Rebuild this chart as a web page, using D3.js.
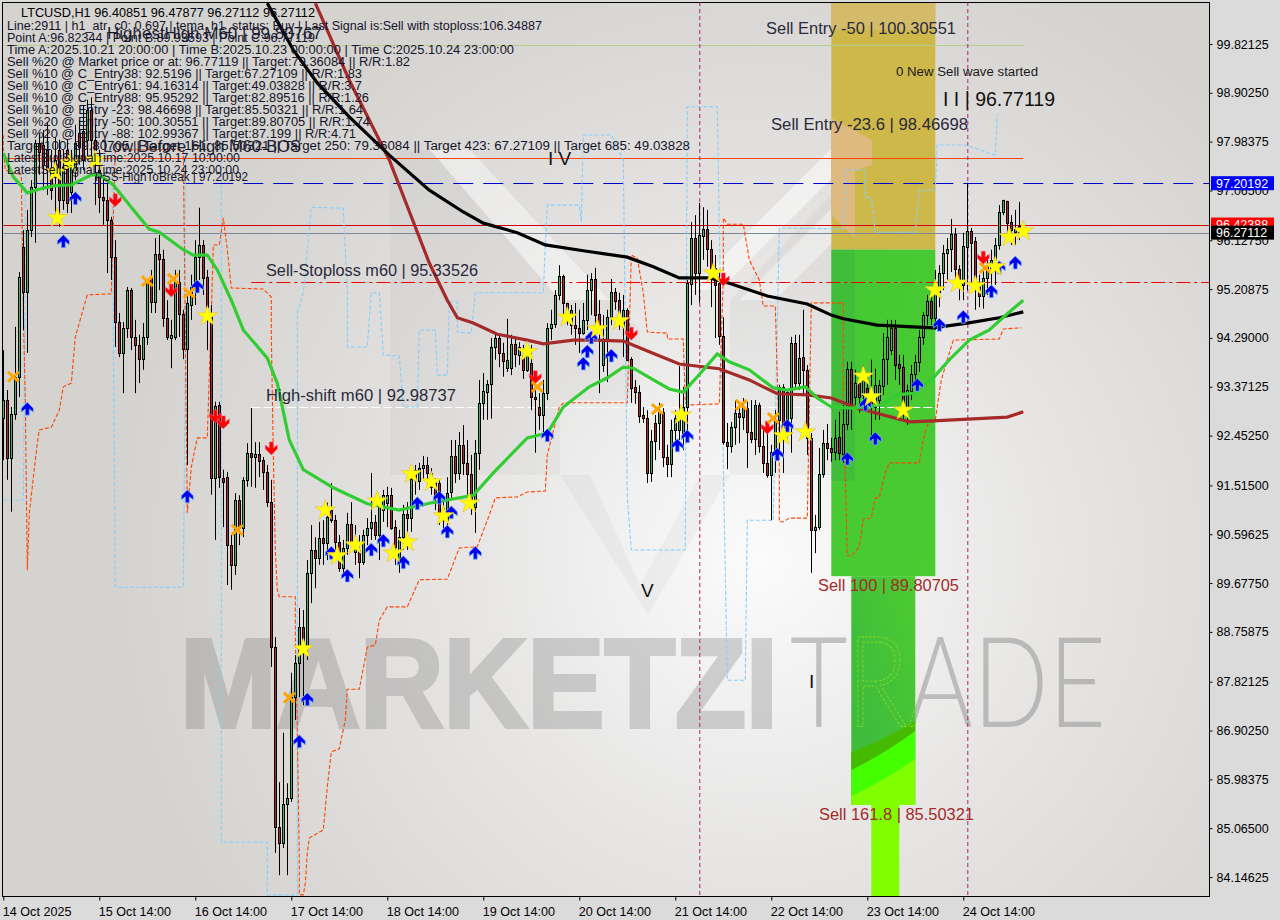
<!DOCTYPE html>
<html><head><meta charset="utf-8">
<script src="https://cdn.jsdelivr.net/npm/d3@7/dist/d3.min.js"></script>
<style>
html,body{margin:0;padding:0;background:#dcdbdb;overflow:hidden}
svg{display:block}
text{font-family:"Liberation Sans",Arial,sans-serif}
</style></head><body><svg id="c" width="1280" height="920"></svg>
<script>
const highs=[94.06,93.31,92.99,94.50,95.53,96.32,96.70,97.26,98.02,98.15,98.20,98.34,97.83,98.07,98.02,97.83,98.02,97.83,98.30,98.39,98.67,98.77,98.82,98.30,97.83,97.36,97.26,96.57,96.13,94.76,94.59,95.25,95.23,94.63,94.35,94.57,95.38,95.57,96.17,96.23,95.95,95.00,94.63,95.57,95.57,94.82,95.10,95.48,96.13,96.74,96.13,95.57,94.91,93.09,93.09,91.81,91.77,90.58,91.37,91.33,91.67,92.31,92.97,92.33,92.33,92.05,91.90,91.62,88.66,85.93,86.86,85.91,87.99,88.32,89.21,89.17,90.11,90.77,90.54,90.83,90.86,91.19,91.56,90.96,90.58,90.49,91.00,91.20,90.77,90.58,90.68,90.90,91.75,90.96,91.30,91.43,91.49,91.47,90.86,90.68,91.15,91.20,91.75,91.90,91.94,92.07,92.05,91.84,91.65,91.62,91.24,91.67,92.37,92.37,92.52,92.65,92.37,92.09,92.37,93.50,93.63,93.50,94.29,94.35,94.35,94.20,94.65,94.35,94.29,94.21,94.16,94.21,94.16,93.37,93.25,93.50,94.57,94.82,95.19,95.66,95.48,94.95,94.91,94.95,94.82,94.95,95.48,95.51,95.61,95.00,94.72,94.82,95.40,95.23,95.14,95.10,94.85,93.93,93.50,93.40,92.99,92.93,92.56,92.84,93.07,92.97,92.28,92.75,92.93,93.76,93.37,95.38,96.47,96.60,96.83,96.75,96.70,96.13,95.85,95.57,94.68,92.69,92.71,93.12,93.07,93.16,93.09,93.12,93.12,93.07,92.56,92.56,92.28,92.93,93.41,93.42,93.31,94.31,94.35,94.35,94.82,93.78,92.50,90.96,92.22,92.56,92.67,92.41,92.75,92.90,93.03,93.84,93.84,93.69,93.54,93.78,93.59,93.88,93.71,93.50,94.38,94.63,94.63,94.63,93.97,93.97,93.41,93.78,93.97,94.44,94.78,95.10,95.10,95.57,95.66,96.04,96.17,96.53,96.36,95.66,96.27,97.21,96.36,96.19,95.48,95.57,95.85,95.95,96.17,96.79,96.89,96.87,96.60,96.70,96.85,96.48];
const lows=[91.99,91.62,91.02,92.75,93.18,94.44,94.01,96.19,96.08,97.36,97.07,96.98,96.89,96.57,96.38,96.70,96.64,96.64,97.26,97.55,97.45,97.64,97.55,96.79,96.64,96.42,95.51,95.38,94.12,93.93,93.25,94.29,94.06,93.25,93.44,93.69,94.16,94.76,94.76,95.19,94.50,94.25,93.72,94.25,94.31,93.89,91.90,94.63,94.91,95.38,95.10,94.06,91.34,90.49,91.47,90.73,89.64,89.55,89.83,90.39,90.54,91.49,91.49,91.47,91.67,91.43,91.11,88.10,84.60,84.18,84.69,84.18,85.56,87.10,87.53,87.38,88.23,89.30,89.58,90.02,90.02,90.11,90.81,90.21,89.89,89.83,90.21,90.39,90.02,89.77,90.02,90.39,90.49,90.49,90.11,90.83,90.73,90.68,90.02,89.87,90.30,90.30,90.64,91.34,91.43,91.62,91.52,91.34,91.05,90.77,90.64,90.77,91.24,91.56,91.62,91.71,91.34,90.96,90.62,91.81,92.75,92.75,92.77,93.88,93.74,93.56,93.65,93.59,93.74,93.78,93.52,93.65,92.93,92.13,92.56,92.52,93.12,94.25,94.48,95.00,94.72,94.53,94.35,94.16,94.01,94.35,94.44,94.72,94.31,93.25,93.65,93.46,94.53,94.82,94.44,93.93,93.88,93.07,93.05,92.69,92.69,91.56,91.58,91.99,92.18,91.86,91.67,91.67,92.28,92.37,92.18,92.37,94.91,95.10,94.95,95.76,95.63,94.87,94.29,94.16,92.28,91.82,92.13,92.28,92.31,92.56,91.84,92.31,92.09,92.13,91.75,91.66,90.86,91.75,92.18,91.75,92.37,92.13,93.31,93.31,93.22,92.09,89.87,90.24,90.68,91.66,91.99,91.96,91.99,91.99,91.94,92.56,92.56,93.03,92.88,93.03,92.93,92.46,92.75,92.75,93.22,93.41,93.97,93.50,93.41,92.75,92.65,93.12,93.50,93.65,94.16,94.53,94.53,94.44,94.87,95.19,95.38,95.53,95.29,95.00,95.00,95.19,95.29,94.82,94.87,94.84,95.10,95.29,95.29,95.95,96.60,96.23,96.04,96.04,96.13,96.27];
const opens=[92.78,93.12,92.03,92.86,93.56,96.00,95.16,96.32,97.13,97.96,97.92,97.83,97.45,97.32,97.83,96.89,97.83,97.04,97.45,98.15,98.18,98.02,98.58,98.02,97.45,96.94,96.89,96.51,95.81,94.59,94.01,94.48,95.19,94.31,94.16,93.89,94.31,95.44,94.97,95.87,95.78,94.67,94.29,94.31,95.34,94.74,94.08,94.91,95.25,95.81,96.04,95.44,94.68,91.66,93.03,91.66,91.67,90.39,90.02,91.24,90.71,91.62,92.13,92.05,92.11,91.99,91.77,91.20,88.47,85.09,84.79,85.52,85.63,87.53,88.17,88.85,88.46,89.87,90.30,90.15,90.53,90.43,91.05,90.86,90.45,89.96,90.34,90.79,90.26,90.30,90.07,90.58,90.71,90.83,90.58,91.05,91.18,91.34,90.73,90.11,90.54,90.98,90.90,91.81,91.60,91.84,91.90,91.75,91.58,91.56,91.09,90.86,91.39,92.07,91.75,92.28,91.94,91.73,91.11,92.13,93.07,93.27,93.42,94.12,94.29,94.01,93.72,93.72,94.18,93.97,93.97,93.69,93.82,93.18,92.99,92.84,93.25,94.48,94.55,95.10,95.46,94.95,94.53,94.53,94.48,94.38,94.63,95.19,95.40,94.74,93.78,94.25,94.68,95.16,95.00,94.50,94.82,93.89,93.37,93.27,92.84,92.78,91.75,92.69,92.69,92.90,92.05,91.92,92.56,92.56,92.50,92.99,95.30,96.17,95.51,96.21,96.34,95.96,95.61,95.32,94.33,92.33,92.26,92.62,92.88,92.80,92.97,92.52,92.39,93.03,92.26,91.94,91.71,92.14,92.75,93.37,92.65,92.78,94.20,93.44,93.93,93.69,92.41,90.68,90.73,91.73,92.31,92.22,92.14,92.43,92.11,92.67,93.71,93.18,93.44,93.22,93.35,93.22,92.99,93.12,93.39,93.89,94.06,94.48,93.80,93.74,92.93,93.29,93.61,93.84,94.31,94.72,94.99,94.67,95.16,95.51,95.89,95.96,96.25,95.59,95.29,96.00,96.30,96.11,95.29,95.08,95.42,95.61,95.66,96.04,96.66,96.87,96.47,96.28,96.40,96.41];
const closes=[93.12,92.03,92.86,93.56,95.44,95.16,96.32,97.13,97.96,97.79,97.55,97.45,97.07,97.64,96.89,97.51,96.83,97.51,97.96,97.88,97.64,98.58,98.02,97.83,96.94,96.89,96.51,95.81,94.59,94.01,94.48,95.19,94.31,94.16,93.89,94.31,95.34,94.97,95.87,95.78,94.67,94.31,94.35,95.34,94.74,94.08,94.95,95.25,95.81,96.04,95.42,94.87,91.66,93.01,91.67,91.58,90.39,90.02,91.24,90.71,91.62,92.13,92.05,92.11,91.98,91.77,91.20,88.47,85.09,84.79,85.52,85.63,87.53,88.17,88.85,88.46,89.87,90.30,90.15,90.53,90.43,90.92,90.86,90.45,89.96,90.34,90.79,90.43,90.49,90.07,90.58,90.71,90.83,90.58,91.15,91.34,91.34,90.71,90.36,90.54,90.98,90.90,91.64,91.62,91.84,91.90,91.75,91.49,91.34,91.00,90.90,91.37,92.07,91.75,92.28,91.94,91.73,91.11,92.13,93.07,93.29,93.42,94.12,94.29,94.01,93.86,93.88,94.18,93.99,94.12,93.69,94.06,93.18,93.14,92.84,93.25,94.48,94.55,95.10,95.46,94.95,94.76,94.82,94.48,94.38,94.63,95.19,95.40,94.72,94.53,94.25,94.68,95.16,94.99,94.76,94.82,93.88,93.35,93.27,92.82,92.78,91.75,92.35,92.35,92.90,92.05,91.92,92.56,92.78,92.80,92.99,95.32,96.17,95.51,96.23,96.34,95.96,95.61,95.29,94.33,92.33,92.26,92.62,92.88,92.80,92.99,92.52,92.39,93.03,92.26,91.94,91.71,92.14,92.75,93.37,92.62,93.27,94.20,93.44,93.91,93.69,92.41,90.68,90.73,91.73,92.31,92.22,92.14,92.41,92.13,92.67,93.71,92.99,93.44,93.18,93.50,93.07,93.03,93.41,93.41,93.89,94.31,94.48,93.78,93.72,92.99,93.31,93.61,93.84,94.31,94.72,94.99,94.67,95.19,95.51,95.89,95.96,96.25,95.59,95.32,96.02,96.30,96.08,95.25,95.08,95.42,95.66,95.76,96.04,96.66,96.89,96.45,96.32,96.34,96.28,96.27];

const greenLine=[[0,97.77],[2.5,97.32],[6,97.02],[10,97.11],[12.5,97.15],[17,97.17],[22,97.36],[24,97.36],[27.5,97.17],[32.5,96.70],[36.5,96.34],[39,96.28],[45,95.95],[47.5,95.85],[51,95.85],[53.5,95.57],[57,95.00],[60,94.44],[66,93.91],[68.5,93.44],[71.5,92.37],[75,91.81],[82.5,91.47],[91,91.17],[99,91.05],[106.5,91.18],[117.5,91.33],[122.5,91.75],[131,92.41],[136,92.50],[140,92.99],[146.5,93.37],[151,93.54],[155,93.74],[157.5,93.72],[163.5,93.46],[166.5,93.33],[170,93.27],[173.5,93.56],[178.5,93.99],[181.5,93.84],[186.5,93.69],[192.5,93.35],[196,93.31],[200.5,93.37],[203.5,93.16],[207,92.99],[212,92.97],[219.5,93.03],[223.5,93.22],[227.5,93.25],[232.5,93.54],[236.5,93.88],[241.5,94.25],[246.5,94.44],[250,94.68],[255,95.00]];
const blackLine=[[66,100.59],[72.5,99.71],[78.5,99.09],[86.5,98.45],[96.5,97.73],[106.5,97.07],[115,96.66],[120,96.45],[128.5,96.27],[135.5,96.04],[145,95.93],[156,95.81],[162.5,95.63],[169,95.42],[176.5,95.42],[181.5,95.32],[191,95.08],[201,94.93],[207,94.72],[210,94.65],[218.5,94.53],[232.5,94.48],[241,94.57],[249,94.67],[255,94.78]];
const brownLine=[[78,100.59],[86.5,99.14],[96.5,97.64],[106.5,95.70],[111,95.00],[113.5,94.67],[117.5,94.57],[123.5,94.36],[131,94.25],[135,94.18],[142.5,94.25],[148.5,94.25],[155,94.23],[161.5,94.03],[169,93.80],[179,93.71],[186.5,93.50],[193.5,93.24],[201,93.22],[207,93.16],[213.5,92.97],[226.5,92.71],[232.5,92.73],[251,92.80],[255,92.90]];
const orangeStops=[[0,98.11],[0,97.83],[0.5,97.45],[4.5,97.36],[5,94.76],[5.5,93.12],[6,89.92],[6.5,91.00],[8.5,92.31],[9,92.56],[12,92.61],[14,92.93],[15,93.37],[17,93.44],[18,94.31],[21,95.10],[27,95.12],[28,97.83],[45,97.83],[46,91.00],[47,91.86],[48.5,92.41],[51,92.41],[52,94.76],[52.5,96.04],[54,96.04],[55,96.55],[56,95.95],[57,95.23],[65,95.21],[67,95.06],[67,94.38],[67.5,92.13],[68,90.30],[68.5,89.55],[69,89.42],[73,89.42],[73,88.66],[73.5,86.97],[74,84.47],[74,83.81],[75,83.81],[75.5,84.03],[76,84.60],[76.5,84.88],[80,85.03],[81,85.84],[82,86.50],[84,86.56],[85.5,87.10],[86,87.68],[89,87.68],[91,88.47],[93,88.51],[94,88.98],[96,89.23],[101,89.23],[104,89.74],[111,89.75],[114,90.34],[118.5,90.36],[121.5,90.96],[123,91.28],[128.5,91.30],[131,91.39],[135.5,91.41],[136,92.09],[139,92.99],[140,93.07],[156,93.07],[157,95.85],[158.5,95.79],[160,95.14],[161,94.40],[166,94.38],[166,94.27],[170,94.27],[170.5,93.07],[172,93.03],[179,93.05],[180,95.44],[180,96.55],[181,96.43],[185,96.43],[186.5,95.76],[189,95.38],[190,94.89],[193,94.89],[194,92.24],[194,90.83],[195,90.83],[196.5,90.90],[201,90.90],[202,94.95],[210,94.95],[210,93.12],[211,90.19],[212,90.19],[214,90.36],[215,90.88],[217,90.90],[218,91.28],[219,91.28],[220.5,91.75],[221.5,91.94],[229,91.94],[230,92.37],[231,92.65],[233,92.75],[234.5,93.50],[236,93.88],[237.5,94.25],[249,94.27],[250,94.46],[254.5,94.48]];
const blueStops=[[0,91.24],[5,91.24],[5.5,95.38],[5.5,98.77],[6,99.52],[27,99.52],[28,89.60],[42,89.60],[45,89.60],[45.5,93.88],[45.5,99.52],[48.5,100.46],[54,100.46],[54.5,97.39],[54.5,84.80],[66,84.80],[66,83.81],[73.5,83.81],[73.5,94.76],[75,95.14],[77,96.75],[85,96.73],[86,95.19],[86,94.12],[91,94.12],[92,95.14],[94,95.14],[95,93.97],[99,93.95],[100,92.99],[103.5,92.99],[104,94.44],[108,94.44],[108.5,93.59],[111,93.59],[111.5,94.97],[113.5,94.97],[113.5,94.40],[117,94.38],[118,95.14],[135,95.14],[135.5,96.04],[136,96.79],[144,96.79],[144.5,96.47],[145,98.11],[152,98.11],[155,97.64],[156,91.30],[157,90.30],[170.5,90.30],[171,98.64],[178.5,98.64],[180,91.94],[181,87.85],[185.5,87.85],[186,90.86],[192.5,90.86],[194,96.36],[210,96.34],[210.5,97.45],[215.5,97.45],[215.5,96.94],[217,96.92],[218,96.28],[228,96.28],[229,97.07],[233,97.07],[233.5,97.92],[240.5,97.92],[248,97.73],[248.5,98.49]];

const stars=[[13.5,96.55],[13,97.41],[16.5,97.58],[23,97.64],[51,94.70],[80.5,91.05],[83.5,90.19],[88,90.39],[93.5,91.22],[97.5,90.24],[101,90.45],[102,91.73],[107,91.58],[110,90.94],[116.5,91.18],[75,88.44],[131,94.03],[141,94.68],[148.5,94.46],[154,94.61],[169.5,92.84],[177.5,95.51],[195,92.45],[200.5,92.52],[215,93.57],[217,93.18],[225,92.93],[233,95.19],[238.5,95.32],[243,95.27],[248,95.63],[251.5,96.19],[255,96.30]];
const crosses=[[2.5,93.56],[36,95.36],[42.5,95.40],[46.5,95.14],[58.5,90.68],[71.5,87.52],[133.5,93.37],[163.5,92.95],[184.5,93.03],[192.5,92.78],[245.5,95.61]];
const upArrows=[[18,96.91],[15,96.10],[48.5,95.25],[6,92.95],[46,91.30],[74,86.69],[76,87.48],[82,90.24],[86,89.81],[92,90.30],[95,90.47],[100,90.06],[103.5,91.17],[109,91.28],[111,90.64],[112,91.00],[118,90.24],[136,92.45],[145,93.80],[146,94.03],[147,94.29],[152,93.95],[168.5,92.26],[171,92.43],[193.5,92.09],[196,92.63],[211,92.01],[215.5,93.03],[218,92.39],[228.5,93.40],[234,94.53],[240,94.68],[247,95.16],[253,95.70],[249,95.61]];
const downArrows=[[28,96.89],[42,95.19],[53,92.82],[55,92.71],[67,92.22],[133,93.56],[157,94.38],[180,95.40],[191,92.61],[245,95.81]];

const priceTicks=[99.82125,98.9025,97.98375,97.065,96.1275,95.20875,94.29,93.37125,92.4525,91.515,90.59625,89.6775,88.75875,87.82125,86.9025,85.98375,85.065,84.14625];
const timeBars=[0,24,48,72,96,120,144,168,192,216,240];
const timeLabels=["14 Oct 2025","15 Oct 14:00","16 Oct 14:00","17 Oct 14:00","18 Oct 14:00","19 Oct 14:00","20 Oct 14:00","21 Oct 14:00","22 Oct 14:00","23 Oct 14:00","24 Oct 14:00"];
const infoLines=["Line:2911 | h1_atr_c0: 0.697 | tema_h1_status: Buy | Last Signal is:Sell with stoploss:106.34887","Point A:96.82344 | Point B:89.93593 | Point C:96.77119","Time A:2025.10.21 20:00:00 | Time B:2025.10.23 00:00:00 | Time C:2025.10.24 23:00:00","Sell %20 @ Market price or at: 96.77119 || Target:79.36084 || R/R:1.82","Sell %10 @ C_Entry38: 92.5196 || Target:67.27109 || R/R:1.83","Sell %10 @ C_Entry61: 94.16314 || Target:49.03828 || R/R:3.7","Sell %10 @ C_Entry88: 95.95292 || Target:82.89516 || R/R:1.26","Sell %10 @ Entry -23: 98.46698 || Target:85.50321 || R/R:1.64","Sell %20 @ Entry -50: 100.30551 || Target:89.80705 || R/R:1.74","Sell %20 @ Entry -88: 102.99367 || Target:87.199 || R/R:4.71","Target100: 89.80705 || Target 161: 85.50321 || Target 250: 79.36084 || Target 423: 67.27109 || Target 685: 49.03828","LatestBuySignalTime:2025.10.17 10:00:00","LatestSellSignalTime:2025.10.24 23:00:00"];
const hLevels=[{p:97.20192,c:"#0000c8",d:"20,10"},{p:97.68,c:"#ff4500",d:"",end:255},{p:99.81,c:"#b4cf8c",d:"",end:255},{p:96.42388,c:"#d40000",d:""},{p:96.27112,c:"#7a8796",d:""},{p:95.33526,c:"#f00000",d:"14,4,3,4",x0:62},{p:92.98737,c:"#ffffff",d:"9,3",x0:62,end:234}];
const vBars=[174,241];
const zones=[{a:207,b:233,hi:102.99367,lo:95.95292,c:"#cfb84a"},{a:207,b:233,hi:95.95292,lo:89.80705,c:"url(#gz)"},{a:212,b:228,hi:89.80705,lo:85.50321,c:"url(#gz2)"},{a:217,b:224,hi:85.50321,lo:79.36084,c:"#7fff00"}];

const W=1280,H=920,L=2,T=2,R=1209,B=896;
const x=d3.scaleLinear().domain([0,255]).range([3.3,1023.3]);
const y=d3.scaleLinear().domain([99.82125,84.14625]).range([44,877]);
const svg=d3.select("#c");
const defs=svg.append("defs");
const bg=defs.append("radialGradient").attr("id","bg").attr("gradientUnits","userSpaceOnUse").attr("cx",760).attr("cy",560).attr("r",640);
bg.append("stop").attr("offset",0).attr("stop-color","#fbfbfb");
bg.append("stop").attr("offset",.45).attr("stop-color","#e7e6e5");
bg.append("stop").attr("offset",1).attr("stop-color","#d5d3d0");
const gz=defs.append("linearGradient").attr("id","gz").attr("x1",0).attr("y1",0).attr("x2",1).attr("y2",1);
gz.append("stop").attr("offset",0).attr("stop-color","#45c834");
gz.append("stop").attr("offset",1).attr("stop-color","#4acb32");
const gz2=defs.append("linearGradient").attr("id","gz2").attr("x1",1).attr("y1",0).attr("x2",0).attr("y2",1);
gz2.append("stop").attr("offset",0).attr("stop-color","#4ccc30");
gz2.append("stop").attr("offset",.7).attr("stop-color","#40bc3c");
defs.append("clipPath").attr("id","clip").append("rect").attr("x",L+1).attr("y",T+1).attr("width",R-L-1).attr("height",B-T-1);
defs.append("clipPath").attr("id","clipR").append("rect").attr("x",x(212)).attr("y",600).attr("width",x(228)-x(212)).attr("height",200);

svg.append("rect").attr("width",W).attr("height",H).attr("fill","#dcdbdb");
svg.append("rect").attr("x",L).attr("y",T).attr("width",R-L).attr("height",B-T).attr("fill","url(#bg)");
const g=svg.append("g").attr("clip-path","url(#clip)");

// logo watermark
const deco=g.append("g");
[["390,150 470,150 640,330 640,400 560,400 560,475 390,475","#000",.028],
 ["730,300 855,170 855,475 730,475","#000",.03],
 ["560,475 590,475 640,585 700,475 730,475 648,615","#000",.03],
 ["430,150 470,150 610,300 560,300","#fff",.5],
 ["690,290 830,150 860,150 720,290","#fff",.5],
 ["740,300 860,180 860,215 775,300","#fff",.4]
].forEach(p=>deco.append("polygon").attr("points",p[0]).attr("fill",p[1]).attr("opacity",p[2]));
const wmA=()=>deco.append("text").attr("y",727).attr("font-size",126);
wmA().attr("x",180).attr("font-weight",700).attr("fill","#7a7a7a").attr("stroke","#7a7a7a").attr("stroke-width",4).attr("opacity",.3).attr("textLength",598).attr("lengthAdjust","spacingAndGlyphs").text("MARKETZI");
wmA().attr("x",790).attr("font-weight",300).attr("fill","#777").attr("opacity",.4).attr("style","font-family:Lato,Inter,sans-serif").attr("textLength",316).attr("lengthAdjust","spacingAndGlyphs").text("TRADE");

// fibonacci zones
g.selectAll("rect.z").data(zones).join("rect").attr("class","z")
 .attr("x",d=>x(d.a)).attr("width",d=>x(d.b)-x(d.a)).attr("y",d=>y(d.hi)).attr("height",d=>y(d.lo)-y(d.hi)).attr("fill",d=>d.c);
const zx0=x(207),zx1=x(233),zm=x(212),zn=x(228);
g.append("polygon").attr("points",`${zx0},118 872,140 872,165 855,170 855,238 ${zx0},215`).attr("fill","#deb980");
g.append("rect").attr("x",zx0).attr("y",0).attr("width",zx1-zx0).attr("height",30).attr("fill","#d3bb6a");
g.append("rect").attr("x",zx0).attr("y",y(95.95)).attr("width",855-zx0).attr("height",y(91.6)-y(95.95)).attr("fill","#2f8f55").attr("opacity",.2);
const band=(a,b,c,d,col)=>g.append("path").attr("d",`M${zm},${a}Q${(zm+zn)/2},${(a+b)/2+4} ${zn},${b}L${zn},${d}Q${(zm+zn)/2},${(c+d)/2+4} ${zm},${c}Z`).attr("fill",col);
band(752,721,770,731,"#45bb00");
band(770,731,796,759,"#44ff00");
g.append("path").attr("d",`M${zm},796Q883,781 ${zn},759L${zn},${y(85.50321)}L${zm},${y(85.50321)}Z`).attr("fill","#7fff00");
g.append("text").attr("clip-path","url(#clipR)").attr("x",790).attr("y",727).attr("font-size",126).attr("font-weight",300).attr("fill","none").attr("stroke","#8fe020").attr("stroke-width",.8).attr("stroke-dasharray","3,2").attr("style","font-family:Lato,Inter,sans-serif").attr("textLength",316).attr("lengthAdjust","spacingAndGlyphs").text("TRADE");

// levels
g.selectAll("line.h").data(hLevels).join("line").attr("class","h").attr("x1",d=>x(d.x0||0)).attr("x2",d=>d.end?x(d.end):R).attr("y1",d=>Math.round(y(d.p))+.5).attr("y2",d=>Math.round(y(d.p))+.5).attr("stroke",d=>d.c).attr("stroke-dasharray",d=>d.d);
g.selectAll("line.v").data(vBars).join("line").attr("class","v").attr("x1",d=>x(d)+.5).attr("x2",d=>x(d)+.5).attr("y1",T).attr("y2",B).attr("stroke","#b3207a").attr("stroke-dasharray","4,3");

// step lines
const ln=d3.line().x(d=>x(d[0])).y(d=>y(d[1]));
g.append("path").attr("d",ln(blueStops)).attr("fill","none").attr("stroke","#87cefa").attr("stroke-width",1.1).attr("stroke-dasharray","4,2");
g.append("path").attr("d",ln(orangeStops)).attr("fill","none").attr("stroke","#ff4500").attr("stroke-width",1.1).attr("stroke-dasharray","4,2");

// candles
const cg=g.append("g");
closes.forEach((c,i)=>{
 const o=opens[i],cx=Math.round(x(i))+.5;
 cg.append("line").attr("x1",cx).attr("x2",cx).attr("y1",y(highs[i])).attr("y2",y(lows[i])).attr("stroke","#000");
 const t=Math.round(y(Math.max(o,c)))+.5,b=Math.round(y(Math.min(o,c)))+.5;
 cg.append("rect").attr("x",cx-1).attr("y",t).attr("width",2).attr("height",Math.max(b-t,1)).attr("fill",c>=o?"#22c070":"#c01a3e").attr("stroke","#000");
});

// moving averages
[[brownLine,"#a52a2a",3.2],[blackLine,"#000",3.2],[greenLine,"#32cd32",3.2]].forEach(([d,c,w])=>{
 g.append("path").attr("d",ln(d)).attr("fill","none").attr("stroke",c).attr("stroke-width",w);
});

// signal markers
const up="M0,-7L6,-1L6,3L2,0L2,6L-2,6L-2,0L-6,3L-6,-1Z";
g.selectAll("path.u").data(upArrows).join("path").attr("class","u").attr("transform",d=>`translate(${x(d[0])},${y(d[1])})`).attr("d",up).attr("fill","#0000f0").attr("stroke","#7db8f0").attr("stroke-width",.8);
g.selectAll("path.d").data(downArrows).join("path").attr("class","d").attr("transform",d=>`translate(${x(d[0])},${y(d[1])}) scale(1,-1)`).attr("d",up).attr("fill","#ff0000").attr("stroke","#f06a8a").attr("stroke-width",.6);
g.selectAll("path.x").data(crosses).join("path").attr("class","x").attr("transform",d=>`translate(${x(d[0])},${y(d[1])})`).attr("d","M-5.5,-5L5.5,5M-5.5,5L5.5,-5").attr("stroke","#ffa500").attr("stroke-width",3).attr("fill","none");
const star=d3.symbol().type(d3.symbolStar).size(130)();
g.selectAll("path.s").data(stars).join("path").attr("class","s").attr("transform",d=>`translate(${x(d[0])},${y(d[1])})`).attr("d",star).attr("fill","#ffff00").attr("stroke","#e8c24a").attr("stroke-width",.7);

// text labels
const tx=(s,px,py,fs,col,ex)=>{const t=g.append("text").attr("x",px).attr("y",py).attr("font-size",fs).attr("fill",col).text(s);if(ex)t.attr("textLength",ex).attr("lengthAdjust","spacingAndGlyphs");return t;};
tx("HighestHigh   M60 | 99.80767",107,39,16.5,"#1f1f33",215);
tx("Low Before High  M60-BOS",103,152,16.5,"#1f1f33",198);
tx("LTCUSD,H1  96.40851 96.47877 96.27112 96.27112",21,17,12.5,"#000",294);
const infoWidths=[535,308,507,403,355,355,362,356,363,349,683,233,232];
infoLines.forEach((s,i)=>{tx(s,7,30+i*12,12.5,"#14142a",infoWidths[i]);});
tx("PSS-HighToBreak | 97.20192",95,181,12.5,"#14142a",153);
tx("Sell Entry -50 | 100.30551",766,34,16,"#2a2a3a",190);
tx("0 New Sell wave started",896,76,12.5,"#1a1a1a",142);
tx("I I | 96.77119",943,106,19.5,"#111",112);
tx("Sell Entry -23.6 | 98.46698",771,130,16,"#2a2a3a",197);
tx("I V",548,165,19,"#111");
tx("Sell-Stoploss m60 | 95.33526",266,276,16,"#2a2a3a",212);
tx("High-shift m60 | 92.98737",266,401,16,"#2a2a3a",190);
tx("Sell 100 | 89.80705",818,591,16,"#a52a2a",141);
tx("Sell 161.8 | 85.50321",819,820,16,"#a52a2a",155);
tx("V",641,597,19,"#111");
tx("I",809,688,19,"#111");

// frame and axes
svg.append("rect").attr("x",L+.5).attr("y",T+.5).attr("width",R-L).attr("height",B-T).attr("fill","none").attr("stroke","#000");
const ay=d3.axisRight(y).tickValues(priceTicks).tickSize(3).tickPadding(4).tickFormat(d3.format(".5f"));
const gy=svg.append("g").attr("transform",`translate(${R+.5},0)`).call(ay);
gy.select(".domain").remove();
gy.selectAll("text").attr("font-size",12.5).attr("font-family","'Liberation Sans'").attr("fill","#000");
const ax=d3.axisBottom(x).tickValues(timeBars).tickSize(4).tickPadding(7).tickFormat((d,i)=>timeLabels[i]);
const gx=svg.append("g").attr("transform",`translate(0,${B+.5})`).call(ax);
gx.select(".domain").remove();
gx.selectAll("text").attr("font-size",12.6).attr("font-family","'Liberation Sans'").attr("fill","#000").attr("text-anchor","start").attr("dx",-1);

// price tags
[[96.42388,"#ff0000"],[97.20192,"#0000ff"],[96.27112,"#000"]].forEach(([p,c])=>{
 const py=y(p);
 svg.append("rect").attr("x",1211).attr("y",py-7).attr("width",63).attr("height",14).attr("fill",c);
 svg.append("text").attr("x",1216).attr("y",py+4.5).attr("font-size",12.5).attr("fill","#fff").text(p.toFixed(5));
});
</script></body></html>
